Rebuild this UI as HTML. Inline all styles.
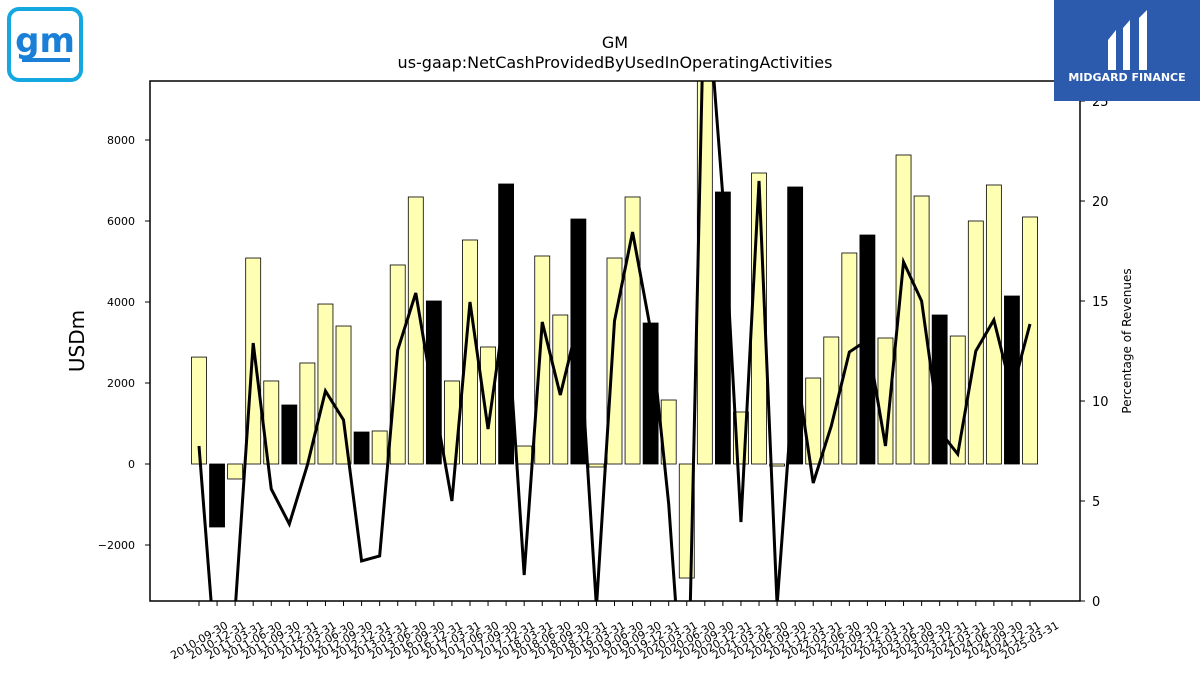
<!DOCTYPE html>
<html><head><meta charset="utf-8"><style>
html,body{margin:0;background:#fff;font-family:"DejaVu Sans","Liberation Sans",sans-serif;width:1200px;height:675px;overflow:hidden;}
#wrap{position:relative;width:1200px;height:675px;overflow:hidden;}
</style></head><body>
<div id="wrap">
<svg id="chart" width="1200" height="675" style="position:absolute;left:0;top:0;font-family:'DejaVu Sans','Liberation Sans',sans-serif">
  <text x="615" y="48" font-size="16" text-anchor="middle">GM</text>
  <text x="615" y="68" font-size="16" text-anchor="middle">us-gaap:NetCashProvidedByUsedInOperatingActivities</text>
  <text x="84" y="341" font-size="20" text-anchor="middle" transform="rotate(-90 84 341)">USDm</text>
  <text x="1131" y="341" font-size="12" text-anchor="middle" transform="rotate(-90 1131 341)">Percentage of Revenues</text>
  <g id="plot"></g>
  <g>
    <rect x="9" y="9" width="72" height="71" rx="10" fill="none" stroke="#15a8e0" stroke-width="4"/>
    <text x="45" y="52" font-size="34" font-weight="bold" fill="#1a7fd6" text-anchor="middle">gm</text>
    <rect x="22" y="58" width="48" height="4" fill="#1a7fd6"/>
  </g>
  <g>
    <rect x="1054" y="0" width="146" height="101" fill="#2c5aac"/>
    <path d="M1108 40 L1116 30 L1116 70 L1108 70 Z" fill="#fff"/>
    <path d="M1123 28 L1130 20 L1130 70 L1123 70 Z" fill="#fff"/>
    <path d="M1139 18 L1147 10 L1147 70 L1139 70 Z" fill="#fff"/>
    <text x="1127" y="81" font-size="11" font-weight="bold" fill="#fff" text-anchor="middle">MIDGARD FINANCE</text>
  </g>
</svg>
</div>
<script>
const categories=["2010-09-30","2010-12-31","2011-03-31","2011-06-30","2011-09-30","2011-12-31","2012-03-31","2012-06-30","2012-09-30","2012-12-31","2013-03-31","2013-06-30","2016-09-30","2016-12-31","2017-03-31","2017-06-30","2017-09-30","2017-12-31","2018-03-31","2018-06-30","2018-09-30","2018-12-31","2019-03-31","2019-06-30","2019-09-30","2019-12-31","2020-03-31","2020-06-30","2020-09-30","2020-12-31","2021-03-31","2021-06-30","2021-09-30","2021-12-31","2022-03-31","2022-06-30","2022-09-30","2022-12-31","2023-03-31","2023-06-30","2023-09-30","2023-12-31","2024-03-31","2024-06-30","2024-09-30","2024-12-31","2025-03-31"];
const cashValues=[2640,-1555,-370,5086,2050,1457,2494,3950,3407,790,815,4914,6593,4025,2050,5531,2889,6914,444,5136,3679,6049,-74,5086,6593,3481,1580,-2815,10000,6716,1284,7185,-50,6840,2123,3136,5210,5654,3111,7630,6617,3679,3160,6000,6889,4148,6099];
const pctValues=[7.75,-3.85,-0.45,12.9,5.6,3.85,6.8,10.5,9.05,2.0,2.25,12.55,15.4,10.05,5.0,14.95,8.6,15.0,1.3,13.95,10.3,14.0,-0.3,14.0,18.45,13.55,4.85,-8,32,20.2,3.95,21.0,-0.2,12.0,5.9,8.75,12.45,13.05,7.75,16.95,15.0,8.5,7.35,12.5,14.05,10.45,13.85];
const leftTicks=[-2000,0,2000,4000,6000,8000];
const rightTicks=[0,5,10,15,20,25];

const NS="http://www.w3.org/2000/svg";
const PL=150,PR=1080,PT=81,PB=601;
const yL=v=>464-v*0.0405;
const yR=p=>601-p*20;
const xC=i=>199+i*(1030-199)/(categories.length-1);
const plot=document.getElementById('plot');
function mk(tag,attrs,parent){const e=document.createElementNS(NS,tag);for(const k in attrs)e.setAttribute(k,attrs[k]);(parent||plot).appendChild(e);return e;}

const defs=mk('defs',{});
const cp=mk('clipPath',{id:'clip'},defs);
mk('rect',{x:PL,y:PT,width:PR-PL,height:PB-PT},cp);
const g=mk('g',{'clip-path':'url(#clip)'});

cashValues.forEach((v,i)=>{
  const y0=yL(0),y1=yL(v);
  const r=mk('rect',{x:xC(i)-7.5,y:Math.min(y0,y1),width:15,height:Math.abs(y1-y0),fill:categories[i].endsWith('12-31')?'#000':'#ffffb3',stroke:'#000','stroke-width':0.8},g);
  
  
});
const line=mk('polyline',{points:pctValues.map((p,i)=>xC(i)+','+yR(p)).join(' '),fill:'none',stroke:'#000','stroke-width':3},g);



const frame=mk('rect',{x:PL,y:PT,width:PR-PL,height:PB-PT,fill:'none',stroke:'#000','stroke-width':1.5});



leftTicks.forEach(t=>{
  const y=yL(t);
  mk('line',{x1:PL-5,x2:PL,y1:y,y2:y,stroke:'#000'});
  const tx=mk('text',{x:PL-15,y:y+4,'font-size':11,'text-anchor':'end'});
  tx.textContent=(t<0?'\u2212'+(-t):t);
  
  
});
rightTicks.forEach(t=>{
  const y=yR(t);
  mk('line',{x1:PR,x2:PR+5,y1:y,y2:y,stroke:'#000'});
  const tx=mk('text',{x:PR+12,y:y+5,'font-size':13,'text-anchor':'start'});
  tx.textContent=t;
  
  
});
categories.forEach((c,i)=>{
  const x=xC(i);
  mk('line',{x1:x,x2:x,y1:PB,y2:PB+5,stroke:'#000'});
  const cy=PB+39;
  const tx=mk('text',{x:x,y:cy+4,'font-size':11,'text-anchor':'middle',transform:`rotate(-30 ${x} ${cy})`});
  tx.textContent=c;
  
  
});
</script>
</body></html>
